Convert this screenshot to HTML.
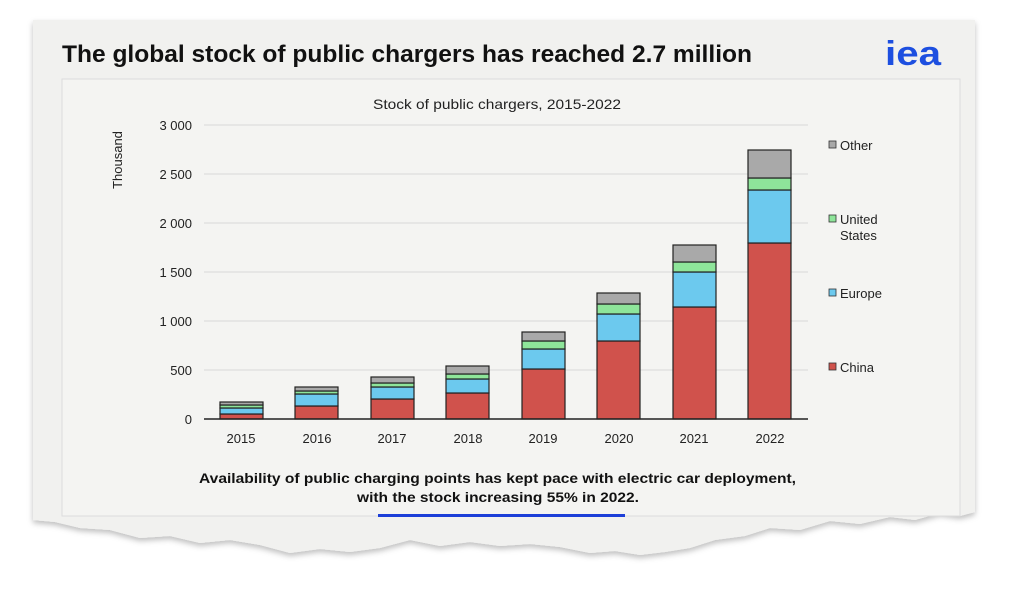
<!DOCTYPE html>
<html><head><meta charset="utf-8"><style>
html,body{margin:0;padding:0;background:#fff;}
svg{display:block;font-family:"Liberation Sans",Arial,sans-serif;}
</style></head><body>
<svg width="1024" height="589" viewBox="0 0 1024 589" xmlns="http://www.w3.org/2000/svg">
<defs><filter id="sh" x="-5%" y="-5%" width="110%" height="120%"><feDropShadow dx="0" dy="3" stdDeviation="3" flood-color="#000" flood-opacity="0.25"/></filter></defs>
<polygon filter="url(#sh)" fill="#f1f1ef" points="33,20 975,20 975,512 960,516 940,513 915,520 890,517 860,524 830,521 800,530 770,528 745,536 715,540 690,548 665,552 640,555 615,551 590,553 560,547 530,544 500,546 470,542 440,546 410,540 380,548 350,552 320,549 290,553 260,545 230,540 200,543 170,536 140,538 110,530 80,528 55,522 33,520"/>
<rect x="62" y="79" width="898" height="437" fill="#f4f4f2" stroke="#dcdcdc" stroke-width="1"/>
<text x="62" y="62" font-size="24" font-weight="bold" fill="#111" textLength="690" lengthAdjust="spacingAndGlyphs">The global stock of public chargers has reached 2.7 million</text>
<text x="885" y="65" font-size="34" font-weight="bold" fill="#1d4fe0" textLength="56" lengthAdjust="spacingAndGlyphs">iea</text>
<text x="373" y="109" font-size="14" fill="#222" textLength="248" lengthAdjust="spacingAndGlyphs">Stock of public chargers, 2015-2022</text>
<text transform="translate(122,160) rotate(-90)" font-size="13" text-anchor="middle" fill="#222">Thousand</text>
<g stroke="#d8d8d8" stroke-width="1">
<line x1="204" y1="125" x2="808" y2="125"/><line x1="204" y1="174" x2="808" y2="174"/><line x1="204" y1="223" x2="808" y2="223"/><line x1="204" y1="272" x2="808" y2="272"/><line x1="204" y1="321" x2="808" y2="321"/><line x1="204" y1="370" x2="808" y2="370"/>
</g>
<g font-size="13" text-anchor="end" fill="#222">
<text x="192" y="130">3 000</text><text x="192" y="179">2 500</text><text x="192" y="228">2 000</text><text x="192" y="277">1 500</text><text x="192" y="326">1 000</text><text x="192" y="375">500</text><text x="192" y="424">0</text>
</g>
<g stroke="#222" stroke-width="1.2">
<rect x="220" y="414" width="43" height="5" fill="#d0524c"/><rect x="220" y="408" width="43" height="6" fill="#6cc9ee"/><rect x="220" y="405" width="43" height="3" fill="#8ee59a"/><rect x="220" y="402" width="43" height="3" fill="#a9a9a9"/>
<rect x="295" y="406" width="43" height="13" fill="#d0524c"/><rect x="295" y="394" width="43" height="12" fill="#6cc9ee"/><rect x="295" y="391" width="43" height="3" fill="#8ee59a"/><rect x="295" y="387" width="43" height="4" fill="#a9a9a9"/>
<rect x="371" y="399" width="43" height="20" fill="#d0524c"/><rect x="371" y="387" width="43" height="12" fill="#6cc9ee"/><rect x="371" y="383" width="43" height="4" fill="#8ee59a"/><rect x="371" y="377" width="43" height="6" fill="#a9a9a9"/>
<rect x="446" y="393" width="43" height="26" fill="#d0524c"/><rect x="446" y="379" width="43" height="14" fill="#6cc9ee"/><rect x="446" y="374" width="43" height="5" fill="#8ee59a"/><rect x="446" y="366" width="43" height="8" fill="#a9a9a9"/>
<rect x="522" y="369" width="43" height="50" fill="#d0524c"/><rect x="522" y="349" width="43" height="20" fill="#6cc9ee"/><rect x="522" y="341" width="43" height="8" fill="#8ee59a"/><rect x="522" y="332" width="43" height="9" fill="#a9a9a9"/>
<rect x="597" y="341" width="43" height="78" fill="#d0524c"/><rect x="597" y="314" width="43" height="27" fill="#6cc9ee"/><rect x="597" y="304" width="43" height="10" fill="#8ee59a"/><rect x="597" y="293" width="43" height="11" fill="#a9a9a9"/>
<rect x="673" y="307" width="43" height="112" fill="#d0524c"/><rect x="673" y="272" width="43" height="35" fill="#6cc9ee"/><rect x="673" y="262" width="43" height="10" fill="#8ee59a"/><rect x="673" y="245" width="43" height="17" fill="#a9a9a9"/>
<rect x="748" y="243" width="43" height="176" fill="#d0524c"/><rect x="748" y="190" width="43" height="53" fill="#6cc9ee"/><rect x="748" y="178" width="43" height="12" fill="#8ee59a"/><rect x="748" y="150" width="43" height="28" fill="#a9a9a9"/>
</g>
<line x1="204" y1="419" x2="808" y2="419" stroke="#222" stroke-width="1.5"/>
<g font-size="13" text-anchor="middle" fill="#222">
<text x="241" y="443">2015</text><text x="317" y="443">2016</text><text x="392" y="443">2017</text><text x="468" y="443">2018</text><text x="543" y="443">2019</text><text x="619" y="443">2020</text><text x="694" y="443">2021</text><text x="770" y="443">2022</text>
</g>
<g stroke="#333" stroke-width="0.8">
<rect x="829" y="141" width="7" height="7" fill="#a9a9a9"/><rect x="829" y="215" width="7" height="7" fill="#8ee59a"/><rect x="829" y="289" width="7" height="7" fill="#6cc9ee"/><rect x="829" y="363" width="7" height="7" fill="#d0524c"/>
</g>
<g font-size="13" fill="#222">
<text x="840" y="150">Other</text><text x="840" y="224">United</text><text x="840" y="240">States</text><text x="840" y="298">Europe</text><text x="840" y="372">China</text>
</g>
<g font-size="14" font-weight="bold" fill="#111">
<text x="199" y="483" textLength="597" lengthAdjust="spacingAndGlyphs">Availability of public charging points has kept pace with electric car deployment,</text>
<text x="357" y="502" textLength="282" lengthAdjust="spacingAndGlyphs">with the stock increasing 55% in 2022.</text>
</g>
<rect x="378" y="514" width="247" height="3" fill="#1d3fd8"/>
</svg>
</body></html>
